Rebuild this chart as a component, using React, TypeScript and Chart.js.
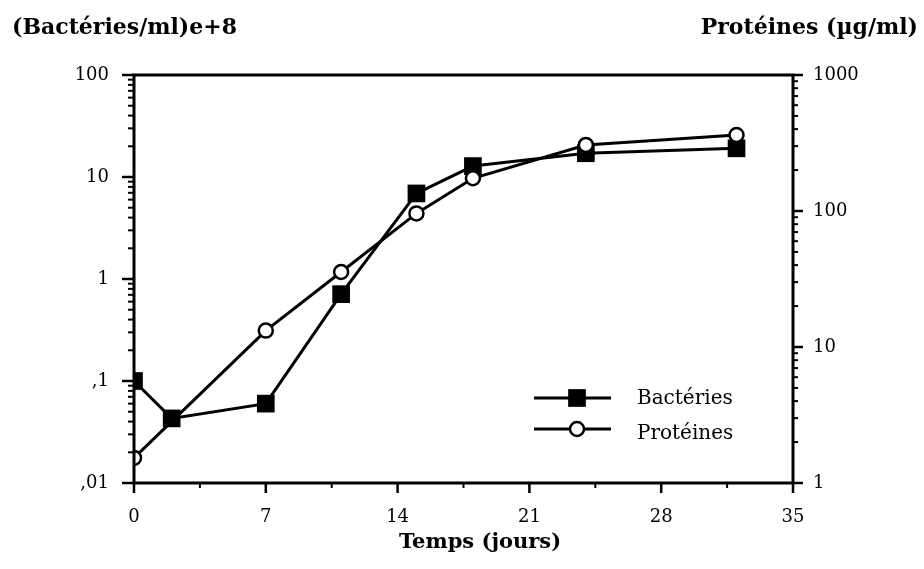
import React, { useEffect, useRef } from 'react';
import { Chart, registerables } from 'chart.js';

Chart.register(...registerables);

const FONT = '"DejaVu Serif", "Liberation Serif", serif';

// ---- data ----
const bacteriaDays = [0, 2, 7, 11, 15, 18, 24, 32];
const bacteriaValues = [0.1, 0.043, 0.06, 0.71, 6.9, 12.8, 17.1, 19.1];
const proteinDays = [0, 7, 11, 15, 18, 24, 32];
const proteinValues = [1.53, 13.2, 35.6, 96, 174, 306, 362];

// ---- ticks ----
const xTickValues = [0, 3.5, 7, 10.5, 14, 17.5, 21, 24.5, 28, 31.5, 35];
const xTickLabels = ['0', '', '7', '', '14', '', '21', '', '28', '', '35'];
const leftDecades = [0.01, 0.1, 1, 10, 100];
const leftDecadeLabels = [',01', ',1', '1', '10', '100'];
const rightDecades = [1, 10, 100, 1000];
const rightDecadeLabels = ['1', '10', '100', '1000'];

const seriesNames = ['Bactéries', 'Protéines'];
const leftTitle = '(Bactéries/ml)e+8';
const rightTitle = 'Protéines (µg/ml)';
const xTitle = 'Temps (jours)';

function logTicks(decades: number[]) {
  const out: { value: number; major: boolean }[] = [];
  for (let i = 0; i < decades.length; i++) {
    const d = decades[i];
    out.push({ value: d, major: true });
    if (i < decades.length - 1) {
      for (let m = 2; m <= 9; m++) out.push({ value: +(m * d).toPrecision(6), major: false });
    }
  }
  return out;
}

function labelFor(value: number, vals: number[], labels: string[]) {
  for (let i = 0; i < vals.length; i++) {
    if (Math.abs(value - vals[i]) < 1e-9 * Math.max(1, vals[i])) return labels[i];
  }
  return '';
}

const framePlugin = {
  id: 'framePlugin',
  afterDraw(chart: any) {
    const ctx = chart.ctx as CanvasRenderingContext2D;
    const a = chart.chartArea;
    const xs = chart.scales.x;
    const yl = chart.scales.y;
    const yr = chart.scales.y1;
    ctx.save();
    ctx.strokeStyle = '#000';
    ctx.lineCap = 'butt';
    // ticks
    ctx.lineWidth = 2;
    for (const t of xs.ticks) {
      const px = xs.getPixelForValue(t.value);
      const len = t.major ? 10 : 5;
      ctx.lineWidth = t.major ? 2.5 : 2;
      ctx.beginPath();
      ctx.moveTo(px, a.bottom);
      ctx.lineTo(px, a.bottom + len);
      ctx.stroke();
    }
    for (const t of yl.ticks) {
      const py = yl.getPixelForValue(t.value);
      const len = t.major ? 12 : 6;
      ctx.lineWidth = t.major ? 2.5 : 2;
      ctx.beginPath();
      ctx.moveTo(a.left, py);
      ctx.lineTo(a.left - len, py);
      ctx.stroke();
    }
    for (const t of yr.ticks) {
      const py = yr.getPixelForValue(t.value);
      const len = t.major ? 10 : 5;
      ctx.lineWidth = t.major ? 2.5 : 2;
      ctx.beginPath();
      ctx.moveTo(a.right, py);
      ctx.lineTo(a.right + len, py);
      ctx.stroke();
    }
    // frame
    ctx.lineWidth = 3;
    ctx.strokeRect(a.left, a.top, a.right - a.left, a.bottom - a.top);

    // titles
    ctx.fillStyle = '#000';
    ctx.textBaseline = 'alphabetic';
    ctx.font = `bold 22px ${FONT}`;
    ctx.textAlign = 'left';
    ctx.fillText(leftTitle, 12, 34);
    ctx.textAlign = 'right';
    ctx.fillText(rightTitle, 918, 34);
    ctx.font = `bold 21px ${FONT}`;
    ctx.textAlign = 'center';
    ctx.fillText(xTitle, 480, 548);

    // legend
    const ds = chart.data.datasets;
    const rows = [
      { ds: ds[1], lineY: 398, textY: 404, name: seriesNames[0] },
      { ds: ds[0], lineY: 429, textY: 439, name: seriesNames[1] },
    ];
    for (const r of rows) {
      ctx.lineWidth = 3;
      ctx.strokeStyle = '#000';
      ctx.beginPath();
      ctx.moveTo(534, r.lineY);
      ctx.lineTo(611, r.lineY);
      ctx.stroke();
      const mx = 577;
      if (r.ds.pointStyle === 'rect') {
        const s = Math.SQRT2 * r.ds.pointRadius;
        ctx.fillStyle = '#000';
        ctx.fillRect(mx - s / 2, r.lineY - s / 2, s, s);
      } else {
        ctx.beginPath();
        ctx.arc(mx, r.lineY, r.ds.pointRadius, 0, Math.PI * 2);
        ctx.fillStyle = '#fff';
        ctx.fill();
        ctx.lineWidth = r.ds.pointBorderWidth;
        ctx.stroke();
      }
      ctx.fillStyle = '#000';
      ctx.font = `20px ${FONT}`;
      ctx.textAlign = 'left';
      ctx.fillText(r.name, 637, r.textY);
    }
    ctx.restore();
  },
};

export default function App() {
  const ref = useRef<HTMLCanvasElement | null>(null);
  useEffect(() => {
    if (!ref.current) return;
    const tickFont = { family: FONT, size: 18 };
    const chart = new Chart(ref.current, {
      type: 'line',
      data: {
        datasets: [
          {
            label: seriesNames[1],
            data: proteinDays.map((d, i) => ({ x: d, y: proteinValues[i] })),
            yAxisID: 'y1',
            borderColor: '#000',
            borderWidth: 3,
            pointStyle: 'circle',
            pointRadius: 7,
            pointBorderWidth: 2.5,
            pointBackgroundColor: '#fff',
            pointBorderColor: '#000',
            tension: 0,
            fill: false,
            order: 1,
          } as any,
          {
            label: seriesNames[0],
            data: bacteriaDays.map((d, i) => ({ x: d, y: bacteriaValues[i] })),
            yAxisID: 'y',
            borderColor: '#000',
            borderWidth: 3,
            pointStyle: 'rect',
            pointRadius: 12.5,
            pointBorderWidth: 0,
            pointBackgroundColor: '#000',
            pointBorderColor: '#000',
            tension: 0,
            fill: false,
            order: 2,
          } as any,
        ],
      },
      options: {
        responsive: false,
        animation: false,
        events: [],
        layout: { padding: { top: 75, left: 0, right: 0, bottom: 0 } },
        plugins: { legend: { display: false }, tooltip: { enabled: false }, title: { display: false } },
        scales: {
          x: {
            type: 'linear',
            min: 0,
            max: 35,
            afterBuildTicks: (s: any) => {
              s.ticks = xTickValues.map((v, i) => ({ value: v, major: xTickLabels[i] !== '' }));
            },
            afterFit: (s: any) => {
              s.height = 86;
            },
            ticks: {
              autoSkip: false,
              maxRotation: 0,
              padding: 24,
              color: '#000',
              font: tickFont,
              callback: (v: any) => labelFor(Number(v), xTickValues, xTickLabels),
            },
            grid: { display: true, drawOnChartArea: false, drawTicks: false },
            border: { display: false },
          },
          y: {
            type: 'logarithmic',
            position: 'left',
            min: 0.01,
            max: 100,
            afterBuildTicks: (s: any) => {
              s.ticks = logTicks(leftDecades);
            },
            afterFit: (s: any) => {
              s.width = 134;
            },
            ticks: {
              autoSkip: false,
              padding: 25,
              color: '#000',
              font: tickFont,
              callback: (v: any) => labelFor(Number(v), leftDecades, leftDecadeLabels),
            },
            grid: { display: true, drawOnChartArea: false, drawTicks: false },
            border: { display: false },
          },
          y1: {
            type: 'logarithmic',
            position: 'right',
            min: 1,
            max: 1000,
            afterBuildTicks: (s: any) => {
              s.ticks = logTicks(rightDecades);
            },
            afterFit: (s: any) => {
              s.width = 131;
            },
            ticks: {
              autoSkip: false,
              padding: 20,
              color: '#000',
              font: tickFont,
              callback: (v: any) => labelFor(Number(v), rightDecades, rightDecadeLabels),
            },
            grid: { display: true, drawOnChartArea: false, drawTicks: false },
            border: { display: false },
          },
        },
      } as any,
      plugins: [framePlugin],
    });
    return () => chart.destroy();
  }, []);
  return (
    <div style={{ position: 'fixed', left: 0, top: 0, width: 924, height: 569, background: '#fff' }}>
      <canvas ref={ref} width={924} height={569} style={{ display: 'block' }} />
    </div>
  );
}
